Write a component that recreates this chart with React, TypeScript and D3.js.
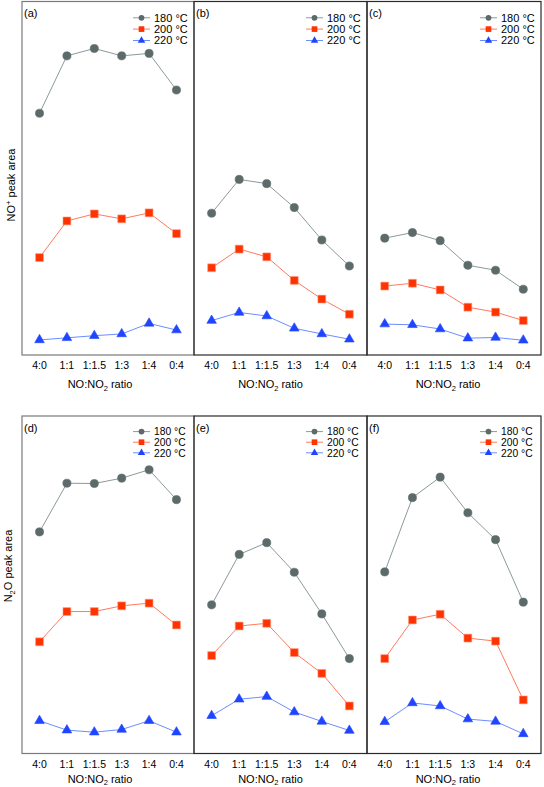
import React from "react";
import * as d3 from "d3";

const ratios = ["4:0", "1:1", "1:1.5", "1:3", "1:4", "0:4"];
const temps = ["180 °C", "200 °C", "220 °C"];
const panelLabels = ["(a)", "(b)", "(c)", "(d)", "(e)", "(f)"];

// NO+ peak area (arbitrary units, 0-100)
const aT180 = [68.4, 84.7, 86.8, 84.7, 85.4, 75.0];
const aT200 = [27.4, 37.8, 39.8, 38.4, 40.1, 34.2];
const aT220 = [4.0, 4.6, 5.2, 5.7, 8.7, 6.8];
const bT180 = [40.0, 49.6, 48.4, 41.6, 32.4, 25.0];
const bT200 = [24.5, 29.8, 27.6, 20.9, 15.6, 11.3];
const bT220 = [9.5, 11.8, 10.8, 7.3, 5.7, 4.2];
const cT180 = [32.9, 34.5, 32.2, 25.2, 23.8, 18.4];
const cT200 = [19.3, 20.1, 18.2, 13.3, 11.9, 9.5];
const cT220 = [8.5, 8.3, 7.1, 4.5, 4.7, 3.9];
// N2O peak area (arbitrary units, 0-100)
const dT180 = [65.5, 80.0, 79.9, 81.5, 84.0, 75.1];
const dT200 = [32.8, 41.8, 41.8, 43.5, 44.3, 37.8];
const dT220 = [9.3, 6.5, 5.9, 6.7, 9.3, 5.9];
const eT180 = [43.8, 58.8, 62.3, 53.5, 41.1, 27.8];
const eT200 = [28.7, 37.5, 38.3, 29.6, 23.4, 13.7];
const eT220 = [10.8, 15.7, 16.5, 11.9, 9.1, 6.4];
const fT180 = [53.6, 75.7, 81.8, 71.2, 63.2, 44.6];
const fT200 = [27.8, 39.3, 41.0, 33.9, 33.0, 15.5];
const fT220 = [9.0, 14.6, 13.7, 9.8, 9.1, 5.4];

const panelSeries = [
  [aT180, aT200, aT220],
  [bT180, bT200, bT220],
  [cT180, cT200, cT220],
  [dT180, dT200, dT220],
  [eT180, eT200, eT220],
  [fT180, fT200, fT220],
];

const markerFill = ["#5d6a6a", "#ff3300", "#1f45ff"];
const lineColor = ["#8c9a9a", "#ff7a5e", "#6d8dff"];
const markerStroke = ["#5d6a6a", "#ff9a85", "#1f45ff"];
const symbolTypes = [d3.symbolCircle, d3.symbolSquare, d3.symbolTriangle];
const symbolSizes = [52, 62, 40];
const legendSizes = [26, 32, 24];

const colEdges = [22, 194, 367, 541];
const rows = [
  { top: 1.5, bottom: 355, yRange: [354, 2], tickY: 369, titleY: 388, ylabX: 14.5, ylabY: 185, legendRows: [16.3, 27.6, 39], legendFont: 11 },
  { top: 416, bottom: 753.5, yRange: [752, 416], tickY: 767.5, titleY: 782.5, ylabX: 12, ylabY: 566, legendRows: [15.6, 26.2, 36.8], legendFont: 10.3 },
];
const titleOffsets = [-8, -10, -6];
const FONT = "'Liberation Sans', Arial, Helvetica, sans-serif";

function Panel({ idx }: { idx: number }) {
  const r = Math.floor(idx / 3);
  const c = idx % 3;
  const row = rows[r];
  const x0 = colEdges[c];
  const x1 = colEdges[c + 1];
  const x = d3.scalePoint<string>().domain(ratios).range([x0, x1]).padding(0.64);
  const y = d3.scaleLinear().domain([0, 100]).range(row.yRange);
  const series = panelSeries[idx];
  const line = d3
    .line<number>()
    .x((_, i) => x(ratios[i]) as number)
    .y((d) => y(d));
  const frameColor = c === 0 ? "#7a7a7a" : "#2a2a2a";
  return (
    <g>
      {series.map((s, si) => (
        <path key={"l" + si} d={line(s) || ""} fill="none" stroke={lineColor[si]} strokeWidth={1} />
      ))}
      {series.map((s, si) =>
        s.map((v, i) => (
          <path
            key={"m" + si + "-" + i}
            transform={`translate(${x(ratios[i])},${y(v)})`}
            d={d3.symbol().type(symbolTypes[si]).size(symbolSizes[si])() || ""}
            fill={markerFill[si]}
            stroke={markerStroke[si]}
            strokeWidth={0.6}
          />
        ))
      )}
      <rect x={x0} y={row.top} width={x1 - x0} height={row.bottom - row.top} fill="none" stroke={frameColor} strokeWidth={1.2} />
      <text x={x0 + 2} y={row.top + 15.5} fontSize={11} fontFamily={FONT}>
        {panelLabels[idx]}
      </text>
      {temps.map((t, ti) => {
        const ly = row.top + row.legendRows[ti];
        return (
          <g key={"lg" + ti}>
            <line x1={x1 - 61} x2={x1 - 44} y1={ly} y2={ly} stroke={lineColor[ti]} strokeWidth={1} />
            <path
              transform={`translate(${x1 - 52.5},${ly})`}
              d={d3.symbol().type(symbolTypes[ti]).size(legendSizes[ti])() || ""}
              fill={markerFill[ti]}
            />
            <text x={x1 - 40} y={ly + 3.8} fontSize={row.legendFont} fontFamily={FONT}>
              {t}
            </text>
          </g>
        );
      })}
      {ratios.map((rt) => (
        <text key={"t" + rt} x={x(rt)} y={row.tickY} fontSize={10.5} fontFamily={FONT} textAnchor="middle">
          {rt}
        </text>
      ))}
      <text x={(x0 + x1) / 2 + titleOffsets[c]} y={row.titleY} fontSize={11} fontFamily={FONT} textAnchor="middle">
        NO:NO
        <tspan fontSize={7.5} dy={2.5}>2</tspan>
        <tspan dy={-2.5}> ratio</tspan>
      </text>
    </g>
  );
}

export default function App() {
  return (
    <svg
      width={544}
      height={787}
      style={{ position: "absolute", left: 0, top: 0, background: "#fff" }}
    >
      <rect x={0} y={0} width={544} height={787} fill="#fff" />
      {panelLabels.map((_, i) => (
        <Panel key={i} idx={i} />
      ))}
      <text transform={`translate(${rows[0].ylabX},${rows[0].ylabY}) rotate(-90)`} fontSize={11} fontFamily={FONT} textAnchor="middle">
        NO
        <tspan fontSize={7.5} dy={-4}>+</tspan>
        <tspan dy={4}> peak area</tspan>
      </text>
      <text transform={`translate(${rows[1].ylabX},${rows[1].ylabY}) rotate(-90)`} fontSize={11} fontFamily={FONT} textAnchor="middle">
        N
        <tspan fontSize={7.5} dy={3}>2</tspan>
        <tspan dy={-3}>O peak area</tspan>
      </text>
    </svg>
  );
}
